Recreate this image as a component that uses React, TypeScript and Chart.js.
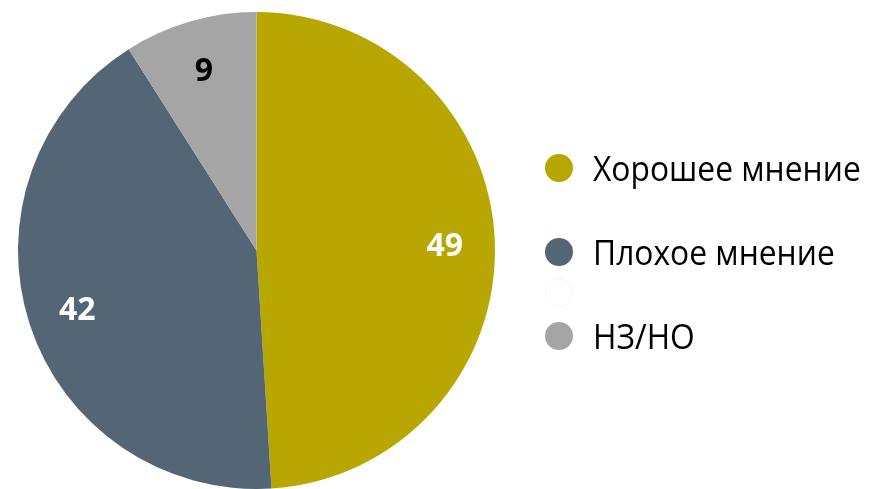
import React, { useEffect, useRef } from "react";
import { Chart, registerables } from "chart.js";
Chart.register(...registerables);

const categories = ["Хорошее мнение", "Плохое мнение", "", "НЗ/НО"];
const values = [49, 42, 0, 9];
const sliceColors = ["#B8A700", "#546576", "#FFFFFF", "#A5A5A5"];
const valueLabelColors = ["#FFFFFF", "#FFFFFF", "#000000", "#000000"];

const FONT = "'Open Sans', 'Noto Sans', sans-serif";

const valueLabelPlugin = {
  id: "valueLabels",
  afterDatasetsDraw(chart: any) {
    const ctx = chart.ctx;
    const meta = chart.getDatasetMeta(0);
    ctx.save();
    ctx.font = `bold 32px ${FONT}`;
    ctx.textAlign = "center";
    ctx.textBaseline = "alphabetic";
    meta.data.forEach((arc: any, i: number) => {
      const v = values[i];
      if (!v) return;
      const mid = (arc.startAngle + arc.endAngle) / 2;
      const r = arc.outerRadius * 0.79;
      const x = arc.x + Math.cos(mid) * r;
      const y = arc.y + Math.sin(mid) * r;
      ctx.fillStyle = valueLabelColors[i];
      ctx.fillText(String(v), x, y + 11);
    });
    ctx.restore();
  },
};

const legendPlugin = {
  id: "customLegend",
  afterDraw(chart: any) {
    const ctx = chart.ctx;
    const offsets = [0, 84, 125, 168];
    const baseY = 168;
    ctx.save();
    categories.forEach((label, i) => {
      const cy = baseY + offsets[i];
      ctx.beginPath();
      ctx.arc(559, cy, 14, 0, Math.PI * 2);
      ctx.fillStyle = sliceColors[i];
      ctx.fill();
      if (sliceColors[i] === "#FFFFFF") {
        ctx.strokeStyle = "#F4F4F4";
        ctx.lineWidth = 1;
        ctx.stroke();
      }
      ctx.save();
      ctx.translate(593, cy + 12.5);
      ctx.scale(0.935, 1);
      ctx.font = `34px ${FONT}`;
      ctx.textAlign = "left";
      ctx.textBaseline = "alphabetic";
      ctx.fillStyle = "#000000";
      ctx.fillText(label, 0, 0);
      ctx.restore();
    });
    ctx.restore();
  },
};

export default function App() {
  const ref = useRef<HTMLCanvasElement | null>(null);
  useEffect(() => {
    document.body.style.margin = "0";
    document.body.style.overflow = "hidden";
    const chart = new Chart(ref.current as HTMLCanvasElement, {
      type: "pie",
      data: {
        labels: categories,
        datasets: [
          {
            data: values,
            backgroundColor: sliceColors,
            borderWidth: 0,
          },
        ],
      },
      options: {
        animation: false,
        responsive: false,
        layout: { padding: { left: 16, right: 374, top: 12, bottom: -3 } },
        plugins: {
          legend: { display: false },
          tooltip: { enabled: false },
        },
      },
      plugins: [valueLabelPlugin, legendPlugin],
    });
    return () => chart.destroy();
  }, []);
  return (
    <div style={{ width: 871, height: 489 }}>
      <canvas ref={ref} width={871} height={489} style={{ display: "block" }} />
    </div>
  );
}
